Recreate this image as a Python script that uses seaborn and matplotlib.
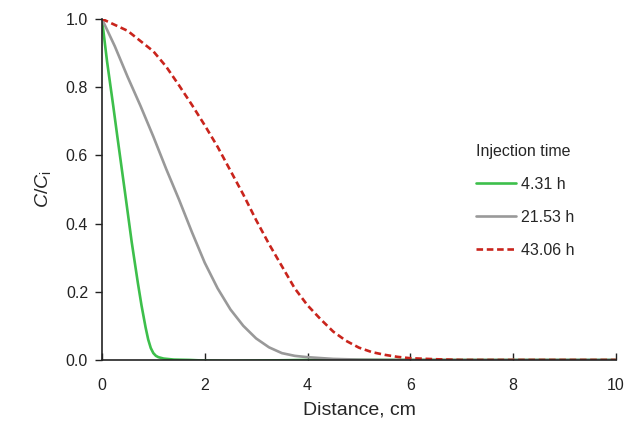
import numpy as np
import pandas as pd
import seaborn as sb
import matplotlib.pyplot as plt

# Perfis de concentração relativa C/Ci ao longo da distância
x_431 = [0, 0.1, 0.22, 0.3, 0.45, 0.58, 0.7, 0.77, 0.85, 0.9, 0.95, 1.0, 1.05, 1.1, 1.2,
         1.4, 1.7, 2.0, 2.5, 3.0, 3.5, 4.0, 5, 6, 7, 8, 9, 10]
c_431 = [1.0, 0.875, 0.745, 0.655, 0.49, 0.345, 0.225, 0.16, 0.095, 0.06, 0.035, 0.02, 0.012,
         0.008, 0.004, 0.001, 0.0, -0.002, -0.003, -0.002, -0.001, 0.0, 0.0, 0.0, 0.0, 0.0, 0.0, 0.0]

x_2153 = [0, 0.25, 0.5, 0.75, 1.0, 1.25, 1.5, 1.75, 2.0, 2.25, 2.5, 2.75, 3.0, 3.25,
          3.5, 3.75, 4.0, 4.5, 5, 5.5, 6, 7, 8, 9, 10]
c_2153 = [1.0, 0.92, 0.83, 0.745, 0.655, 0.56, 0.47, 0.375, 0.285, 0.21, 0.148, 0.10, 0.063,
          0.037, 0.02, 0.012, 0.008, 0.003, 0.001, 0.0, 0.0, 0.0, 0.0, 0.0, 0.0]

x_4306 = [0, 0.5, 1.0, 1.25, 1.5, 1.75, 2.0, 2.25, 2.5, 2.75, 3.0, 3.25, 3.5, 3.75, 4.0,
          4.25, 4.5, 4.75, 5.0, 5.25, 5.5, 5.75, 6.0, 6.5, 7, 8, 9, 10]
c_4306 = [1.0, 0.965, 0.905, 0.86, 0.805, 0.748, 0.688, 0.625, 0.555, 0.485, 0.41, 0.34,
          0.275, 0.21, 0.16, 0.12, 0.083, 0.056, 0.036, 0.023, 0.015, 0.009, 0.005, 0.002,
          0.0, 0.0, 0.0, 0.0]

rotulos = ['4.31 h', '21.53 h', '43.06 h']
cores = ['#3dbf4b', '#999999', '#c9241c']

sb.set_style('ticks')
plt.rcParams['font.family'] = ['Liberation Sans', 'DejaVu Sans']
plt.rcParams['mathtext.fontset'] = 'custom'
plt.rcParams['mathtext.rm'] = 'Liberation Sans'
plt.rcParams['mathtext.it'] = 'Liberation Sans:italic'

fig, ax = plt.subplots(figsize=(6.41, 4.29), dpi=100)
fig.subplots_adjust(left=0.159, right=0.961, bottom=0.161, top=0.956)

sb.lineplot(x=x_431, y=c_431, color=cores[0], lw=1.9, label=rotulos[0], ax=ax)
sb.lineplot(x=x_2153, y=c_2153, color=cores[1], lw=1.9, label=rotulos[1], ax=ax)
sb.lineplot(x=x_4306, y=c_4306, color=cores[2], lw=1.9, label=rotulos[2], ax=ax,
            linestyle=(0, (2.5, 1.4)))

ax.set_xlim(0, 10)
ax.set_ylim(0, 1.0)
ax.set_xticks([0, 2, 4, 6, 8, 10])
ax.set_yticks([0, 0.2, 0.4, 0.6, 0.8, 1.0])
ax.set_yticklabels(['0.0', '0.2', '0.4', '0.6', '0.8', '1.0'])
ax.tick_params(axis='x', direction='in', length=5, width=1, labelsize=11.5, pad=13, colors='#222222')
ax.tick_params(axis='y', direction='out', length=5, width=1, labelsize=11.5, pad=5, colors='#222222')
for s in ['left', 'bottom']:
    ax.spines[s].set_color('#222222')
    ax.spines[s].set_linewidth(1.2)
sb.despine(ax=ax)

ax.set_xlabel('Distance, cm', fontsize=14, labelpad=6)
ax.set_ylabel(r'$\mathit{C}/\mathit{C}_\mathrm{i}$', fontsize=14, labelpad=9)

leg = ax.legend(title='Injection time', frameon=False, fontsize=11.5, title_fontsize=11.5,
                loc='upper left', bbox_to_anchor=(0.70, 0.675), handlelength=2.5,
                labelspacing=1.12, handletextpad=0.3)
leg._legend_box.align = 'left'

plt.savefig('out.png')
